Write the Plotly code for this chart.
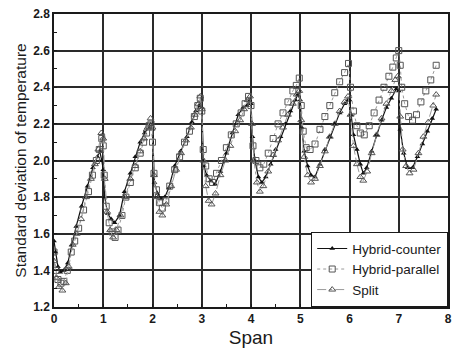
import plotly.graph_objects as go

# Hybrid-counter (filled triangles, solid line)
counter_x = [0.0, 0.03, 0.08, 0.13, 0.2, 0.28, 0.36, 0.45, 0.56, 0.68, 0.79, 0.88, 0.93, 0.97,
             1.0, 1.03, 1.09, 1.16, 1.23, 1.33, 1.43, 1.55, 1.65, 1.75, 1.84, 1.92, 1.97,
             2.0, 2.04, 2.1, 2.18, 2.25, 2.33, 2.45, 2.57, 2.7, 2.8, 2.88, 2.95,
             3.0, 3.04, 3.1, 3.18, 3.27, 3.38, 3.5, 3.62, 3.74, 3.84, 3.92, 3.97,
             4.0, 4.03, 4.08, 4.15, 4.22, 4.3, 4.4, 4.5, 4.6, 4.7, 4.8, 4.9, 4.95,
             5.0, 5.03, 5.08, 5.15, 5.22, 5.3, 5.4, 5.5, 5.6, 5.7, 5.8, 5.9, 5.97,
             6.0, 6.03, 6.08, 6.15, 6.22, 6.28, 6.35, 6.45, 6.55, 6.65, 6.75, 6.85, 6.95,
             7.0, 7.03, 7.1, 7.18, 7.28, 7.38, 7.48, 7.58, 7.68, 7.76]
counter_y = [1.56, 1.50, 1.42, 1.39, 1.40, 1.44, 1.54, 1.64, 1.75, 1.86, 1.96, 2.02, 2.05, 2.00,
             1.95, 1.80, 1.71, 1.68, 1.66, 1.70, 1.83, 1.93, 2.02, 2.10, 2.15, 2.18, 2.20,
             2.17, 1.88, 1.82, 1.79, 1.80, 1.85, 1.97, 2.05, 2.13, 2.21, 2.27, 2.30,
             2.29, 1.97, 1.92, 1.89, 1.87, 1.94, 2.04, 2.15, 2.25, 2.29, 2.30, 2.33,
             2.31, 2.13, 2.00, 1.91, 1.88, 1.91, 1.98, 2.06, 2.13, 2.20, 2.27, 2.33, 2.36,
             2.33, 2.18, 2.05, 1.97, 1.92, 1.91, 1.98, 2.06, 2.13, 2.20, 2.26, 2.31, 2.33,
             2.33, 2.25, 2.14, 2.06, 1.98, 1.93, 1.96, 2.05, 2.14, 2.22, 2.29, 2.34, 2.39,
             2.38, 2.17, 2.04, 1.96, 1.96, 2.02, 2.09, 2.16, 2.23, 2.28]

# Hybrid-parallel (open squares, dotted line)
parallel_x = [0.0, 0.04, 0.08, 0.14, 0.2, 0.27, 0.35, 0.42, 0.5, 0.6, 0.7, 0.78, 0.86, 0.92, 0.97,
              1.0, 1.02, 1.06, 1.12, 1.18, 1.24, 1.3, 1.38, 1.46, 1.55, 1.65, 1.75, 1.82, 1.88, 1.93, 1.97,
              2.0, 2.03, 2.08, 2.14, 2.2, 2.27, 2.35, 2.45, 2.55, 2.65, 2.75, 2.85, 2.92, 2.97,
              3.0, 3.03, 3.08, 3.15, 3.22, 3.3, 3.4, 3.5, 3.6, 3.7, 3.8, 3.88, 3.95,
              4.0, 4.04, 4.1, 4.18, 4.26, 4.35, 4.45, 4.55, 4.65, 4.75, 4.85, 4.92, 4.98,
              5.02, 5.06, 5.12, 5.2, 5.3, 5.4, 5.5, 5.6, 5.7, 5.8, 5.9, 5.98,
              6.02, 6.08, 6.15, 6.22, 6.3, 6.4, 6.5, 6.6, 6.7, 6.8, 6.88, 6.95, 7.0,
              7.03, 7.06, 7.12, 7.2, 7.28, 7.36, 7.45, 7.55, 7.65, 7.76]
parallel_y = [1.50, 1.40, 1.35, 1.33, 1.34, 1.40, 1.50, 1.56, 1.63, 1.73, 1.83, 1.92, 2.00, 2.06, 2.12,
              2.08, 1.92, 1.75, 1.66, 1.61, 1.58, 1.62, 1.70, 1.80, 1.88, 1.96, 2.04, 2.10, 2.15, 2.19, 2.20,
              2.10, 1.93, 1.84, 1.77, 1.74, 1.78, 1.86, 1.95, 2.02, 2.10, 2.16, 2.24, 2.30, 2.34,
              2.27, 2.06, 1.97, 1.90, 1.88, 1.93, 2.00, 2.07, 2.14, 2.20, 2.26, 2.31, 2.35,
              2.30, 2.08, 2.00, 1.96, 1.98, 2.04, 2.12, 2.20, 2.26, 2.32, 2.38, 2.41, 2.45,
              2.30, 2.16, 2.07, 2.06, 2.09, 2.17, 2.24, 2.30, 2.37, 2.43, 2.48, 2.53,
              2.40, 2.27, 2.19, 2.15, 2.14, 2.19, 2.26, 2.33, 2.40, 2.46, 2.51, 2.56, 2.60,
              2.52, 2.40, 2.31, 2.24, 2.22, 2.25, 2.32, 2.38, 2.44, 2.52]

# Split (open triangles, dash-dot line)
split_x = [0.0, 0.05, 0.1, 0.17, 0.24, 0.3, 0.38, 0.46, 0.55, 0.65, 0.75, 0.83, 0.9, 0.96,
           1.0, 1.03, 1.08, 1.14, 1.2, 1.27, 1.35, 1.45, 1.55, 1.65, 1.75, 1.83, 1.9, 1.96,
           2.0, 2.03, 2.08, 2.14, 2.2, 2.28, 2.38, 2.48, 2.58, 2.68, 2.78, 2.86, 2.93, 2.97,
           3.0, 3.03, 3.08, 3.14, 3.2, 3.28, 3.38, 3.48, 3.58, 3.68, 3.78, 3.86, 3.93, 3.98,
           4.02, 4.06, 4.12, 4.18, 4.25, 4.35, 4.45, 4.55, 4.65, 4.75, 4.85, 4.93, 4.98,
           5.02, 5.08, 5.15, 5.22, 5.3, 5.4, 5.5, 5.6, 5.7, 5.8, 5.9, 5.97,
           6.02, 6.08, 6.15, 6.22, 6.28, 6.36, 6.45, 6.55, 6.65, 6.75, 6.85, 6.93, 6.98,
           7.03, 7.08, 7.15, 7.22, 7.3, 7.4, 7.5, 7.6, 7.7, 7.76]
split_y = [1.45, 1.36, 1.31, 1.29, 1.33, 1.42, 1.54, 1.60, 1.68, 1.80, 1.90, 1.98, 2.06, 2.15,
           2.12, 1.90, 1.72, 1.62, 1.58, 1.62, 1.70, 1.80, 1.90, 1.97, 2.05, 2.12, 2.18, 2.23,
           2.18, 1.92, 1.80, 1.72, 1.70, 1.76, 1.86, 1.95, 2.04, 2.11, 2.18, 2.25, 2.31, 2.35,
           2.28, 2.00, 1.86, 1.78, 1.76, 1.82, 1.92, 2.00, 2.08, 2.16, 2.22, 2.28, 2.33, 2.35,
           2.20, 2.00, 1.88, 1.83, 1.86, 1.94, 2.03, 2.11, 2.18, 2.25, 2.31, 2.36, 2.38,
           2.22, 2.02, 1.92, 1.88, 1.90, 1.97, 2.05, 2.13, 2.20, 2.27, 2.32, 2.35,
           2.25, 2.08, 1.98, 1.91, 1.89, 1.94, 2.04, 2.14, 2.23, 2.31, 2.38, 2.44, 2.46,
           2.24, 2.06, 1.97, 1.93, 1.95, 2.04, 2.13, 2.21, 2.30, 2.36]

x_ticks = [0, 1, 2, 3, 4, 5, 6, 7, 8]
y_ticks = [1.2, 1.4, 1.6, 1.8, 2.0, 2.2, 2.4, 2.6, 2.8]

FONT = "Arial, Liberation Sans, sans-serif"
INK = "#1a1a1a"

fig = go.Figure()
fig.add_trace(go.Scatter(
    x=counter_x, y=counter_y, name="Hybrid-counter", mode="lines+markers",
    line=dict(color="#111111", width=1.2),
    marker=dict(symbol="triangle-up", size=5, color="#111111"),
))
fig.add_trace(go.Scatter(
    x=parallel_x, y=parallel_y, name="Hybrid-parallel", mode="lines+markers",
    line=dict(color="#9a9a9a", width=1, dash="dot"),
    marker=dict(symbol="square-open", size=6, color="#555555", line=dict(width=1)),
))
fig.add_trace(go.Scatter(
    x=split_x, y=split_y, name="Split", mode="lines+markers",
    line=dict(color="#9a9a9a", width=1, dash="dashdot"),
    marker=dict(symbol="triangle-up-open", size=6, color="#555555", line=dict(width=1)),
))

axis_common = dict(
    showline=True, linecolor=INK, linewidth=1.5, mirror=True,
    showgrid=True, gridcolor="#2a2a2a", gridwidth=1.6,
    ticks="inside", ticklen=3, tickcolor=INK,
    zeroline=False,
    tickfont=dict(family=FONT, size=12, color=INK, weight="bold"),
)

fig.update_xaxes(
    range=[0, 8], tickvals=x_ticks, ticktext=[str(v) for v in x_ticks],
    minor=dict(dtick=0.5, ticks="inside", ticklen=3, tickcolor=INK, showgrid=False),
    title=dict(text="Span", font=dict(family=FONT, size=19, color=INK), standoff=6),
    **axis_common,
)
fig.update_yaxes(
    range=[1.2, 2.8], tickvals=y_ticks, ticktext=[f"{v:.1f}" for v in y_ticks],
    minor=dict(dtick=0.1, ticks="inside", ticklen=3, tickcolor=INK, showgrid=False),
    title=dict(text="Standard deviation of temperature",
               font=dict(family=FONT, size=15.5, color=INK), standoff=3),
    **axis_common,
)

fig.update_layout(
    width=454, height=349,
    margin=dict(l=54, r=2, t=14, b=42),
    paper_bgcolor="white", plot_bgcolor="white",
    legend=dict(
        x=1, y=0, xanchor="right", yanchor="bottom",
        bgcolor="white", bordercolor=INK, borderwidth=1.2,
        font=dict(family=FONT, size=13.5, color=INK),
        tracegroupgap=0, itemwidth=30,
    ),
)

fig.write_html("out.html")
